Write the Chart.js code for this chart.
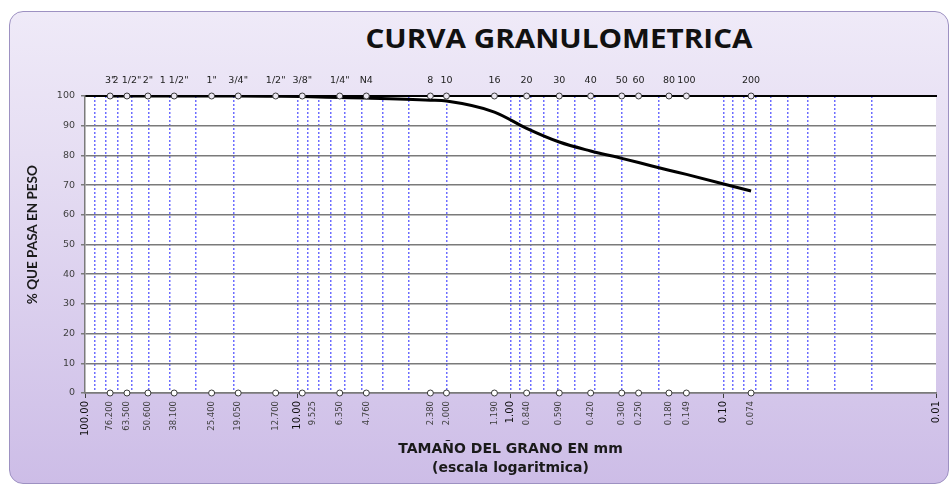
<!DOCTYPE html>
<html>
<head>
<meta charset="utf-8">
<script src="https://cdn.jsdelivr.net/npm/chart.js@4.4.1/dist/chart.umd.min.js"></script>
<style>
  html, body { margin: 0; padding: 0; background: #ffffff; }
  #wrap { position: absolute; left: 0; top: 0; width: 951px; height: 486px; overflow: hidden; }
  #frame { position: absolute; left: 9px; top: 11px; width: 940px; height: 473px;
           border: 1.5px solid #9d91c2; border-radius: 14px; box-sizing: border-box;
           background: linear-gradient(#efeaf8, #e6def3 30%, #cdbde7); }
  #title { position: absolute; left: 309px; top: 20px; width: 500px; text-align: center;
           font-family: "Open Sans", sans-serif; font-weight: 700; font-size: 26px; color: #111;
           transform: scaleX(1.14); transform-origin: 250px 50%; }
  canvas { position: absolute; left: 0; top: 0; }
</style>
</head>
<body>
<div id="wrap">
  <div id="frame"></div>
  <div id="title">CURVA GRANULOMETRICA</div>
  <canvas id="c" width="951" height="486"></canvas>
</div>
<script>
// ---- data ----
const sieveNames = ['3"', '2 1/2"', '2"', '1 1/2"', '1"', '3/4"', '1/2"', '3/8"', '1/4"', 'N4',
                    '8', '10', '16', '20', '30', '40', '50', '60', '80', '100', '200'];
const sieveSizes = [76.2, 63.5, 50.6, 38.1, 25.4, 19.05, 12.7, 9.525, 6.35, 4.76,
                    2.38, 2.0, 1.19, 0.84, 0.59, 0.42, 0.30, 0.25, 0.18, 0.149, 0.074];
const percentPassing = [100, 100, 100, 100, 100, 100, 99.9, 99.8, 99.5, 99.3,
                        98.6, 98.3, 94.6, 89.1, 84.5, 81.5, 79.0, 77.6, 75.0, 73.6, 68.0];
const decadeTicks = [100, 10, 1, 0.1, 0.01];
const gridMultipliers = [1, 2, 3, 4, 5, 6, 7, 8, 9];
const gridDecades = [10, 1, 0.1, 0.01];
const yTickStep = 10;
const shiftedLabels = [9.525];   // label drawn beside its neighbour (10.00)

// derived tick lists
const minorGrid = [];
gridDecades.forEach(d => gridMultipliers.forEach(m => {
  const v = +(d * m).toPrecision(6);
  if (v > 0.01 && v < 100) minorGrid.push(v);
}));
const bottomTicks = decadeTicks.concat(sieveSizes);
const decadeSet = new Set(decadeTicks);

const whiteArea = {
  id: 'whiteArea',
  beforeDraw(chart) {
    const { ctx, chartArea: a } = chart;
    ctx.save();
    ctx.fillStyle = '#ffffff';
    ctx.fillRect(a.left, a.top, a.right - a.left, a.bottom - a.top);
    ctx.restore();
  }
};

const logBase = { type: 'logarithmic', reverse: true, min: 0.01, max: 100 };

new Chart(document.getElementById('c'), {
  type: 'scatter',
  data: {
    datasets: [
      {
        label: 'curva',
        data: sieveSizes.map((s, i) => ({ x: s, y: percentPassing[i] })),
        showLine: true,
        borderColor: '#000000',
        borderWidth: 3,
        pointRadius: 0,
        cubicInterpolationMode: 'monotone',
        xAxisID: 'x', yAxisID: 'y',
        order: 2
      },
      {
        label: 'tamices sup',
        data: sieveSizes.map(s => ({ x: s, y: 100 })),
        showLine: false,
        pointRadius: 3,
        pointBorderWidth: 1,
        pointBorderColor: '#3a3a3a',
        pointBackgroundColor: '#ece8f2',
        clip: false,
        xAxisID: 'x', yAxisID: 'y',
        order: 0
      },
      {
        label: 'tamices inf',
        data: sieveSizes.map(s => ({ x: s, y: 0 })),
        showLine: false,
        pointRadius: 3,
        pointBorderWidth: 1,
        pointBorderColor: '#3a3a3a',
        pointBackgroundColor: '#ffffff',
        clip: false,
        xAxisID: 'x', yAxisID: 'y',
        order: 0
      }
    ]
  },
  options: {
    responsive: false,
    animation: false,
    events: [],
    layout: { padding: { left: 25, right: 15, top: 0, bottom: 0 } },
    plugins: { legend: { display: false }, title: { display: false }, tooltip: { enabled: false } },
    scales: {
      x: Object.assign({}, logBase, {
        position: 'bottom',
        afterBuildTicks: s => { s.ticks = bottomTicks.map(v => ({ value: v, major: decadeSet.has(v) })); },
        afterFit: s => { s.height = 93; },
        ticks: {
          autoSkip: false, minRotation: 90, maxRotation: 90, padding: 3,
          callback: v => decadeSet.has(v) ? v.toFixed(2)
                        : (shiftedLabels.includes(v) ? ['', v.toFixed(3)] : v.toFixed(3)),
          font: ctx => (ctx.tick && ctx.tick.major)
            ? { family: 'DejaVu Sans', size: 10 }
            : { family: 'DejaVu Sans', size: 8.5 },
          color: ctx => (ctx.tick && ctx.tick.major) ? '#111111' : '#404040'
        },
        grid: {
          drawOnChartArea: false, drawTicks: true, tickLength: 5,
          tickColor: ctx => (ctx.tick && ctx.tick.major) ? '#404040' : 'rgba(0,0,0,0)'
        },
        border: { display: true, color: '#7a7a7a', width: 1.5 },
        title: {
          display: true,
          text: ['TAMAÑO DEL GRANO EN mm', '(escala logaritmica)'],
          font: { family: 'DejaVu Sans', weight: 'bold', size: 14, lineHeight: 1.36 },
          color: '#1a1a1a',
          padding: { top: 0, bottom: 8 }
        }
      }),
      xTop: Object.assign({}, logBase, {
        position: 'top',
        afterBuildTicks: s => { s.ticks = sieveSizes.map(v => ({ value: v })); },
        afterFit: s => { s.height = 96; },
        ticks: {
          autoSkip: false, minRotation: 0, maxRotation: 0, padding: 10,
          callback: (v, i) => sieveNames[i],
          font: { family: 'DejaVu Sans', size: 9.5 },
          color: '#222222'
        },
        grid: { display: true, drawOnChartArea: false, drawTicks: false },
        border: { display: true, color: '#000000', width: 2 }
      }),
      xGrid: Object.assign({}, logBase, {
        position: 'bottom',
        afterBuildTicks: s => { s.ticks = minorGrid.map(v => ({ value: v })); },
        afterFit: s => { s.height = 0; },
        ticks: { display: false },
        grid: { display: true, drawOnChartArea: true, drawTicks: false, color: '#6d6dff', lineWidth: 1.5 },
        border: { display: false, dash: [2, 2] }
      }),
      y: {
        min: 0, max: 100,
        afterFit: s => { s.width = 60; },
        ticks: { stepSize: yTickStep, font: { family: 'DejaVu Sans', size: 9.5 }, color: '#404040', padding: 6 },
        grid: { color: '#7a7a7a', lineWidth: 1.5, tickLength: 4 },
        border: { color: '#7a7a7a', width: 1.5 },
        title: {
          display: true, text: '      % QUE PASA EN PESO',
          font: { family: 'Lato', weight: 'bold', size: 13.5 },
          color: '#1a1a1a', padding: { top: 0, bottom: 0 }
        }
      }
    }
  },
  plugins: [whiteArea]
});
</script>
</body>
</html>
